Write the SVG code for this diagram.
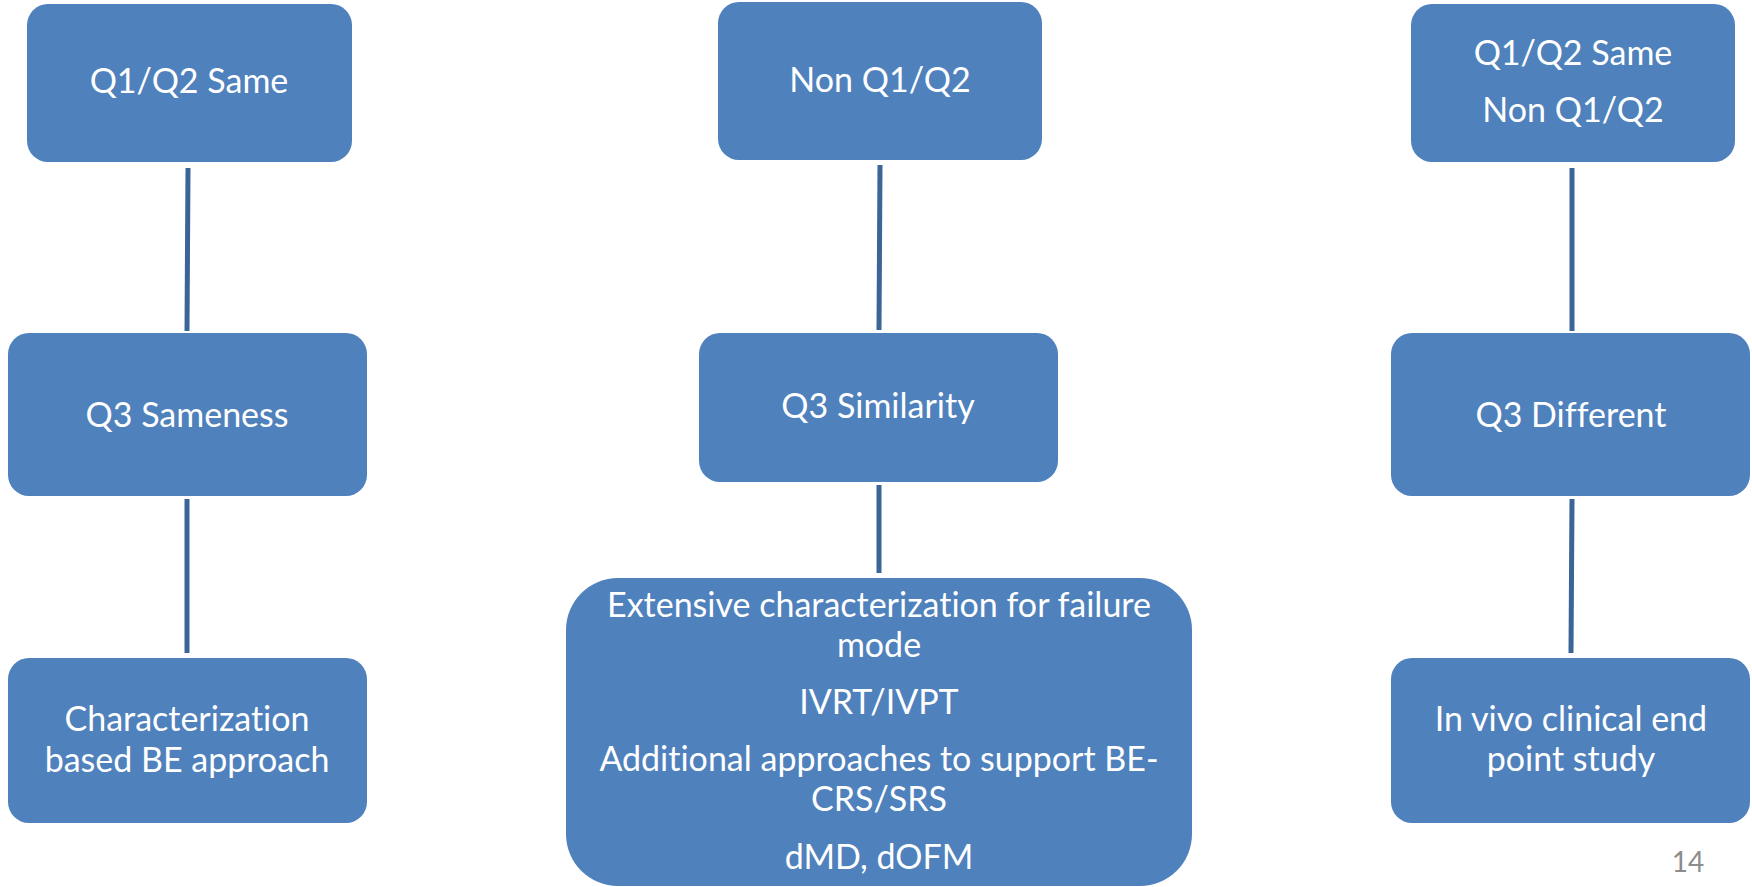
<svg xmlns="http://www.w3.org/2000/svg" width="1752" height="887" viewBox="0 0 1752 887">
<style>
.box{fill:#4F81BD;}
.t{font-family:Lato,"Open Sans","Liberation Sans",sans-serif;font-size:34px;fill:#FFFFFF;text-anchor:middle;font-variant-ligatures:none;font-feature-settings:"liga" 0;}
.c{stroke:#3B6497;stroke-width:5;fill:none;}
.pg{font-family:Lato,"Liberation Sans",sans-serif;font-size:28px;fill:#8C8C8C;text-anchor:middle;}
</style>
<rect width="1752" height="887" fill="#FFFFFF"/>
<g id="connectors">
<line class="c" x1="188" y1="168" x2="187" y2="331"/>
<line class="c" x1="187" y1="499" x2="187" y2="653"/>
<line class="c" x1="880" y1="165" x2="879" y2="330"/>
<line class="c" x1="879" y1="485" x2="879" y2="573"/>
<line class="c" x1="1572" y1="168" x2="1572" y2="331"/>
<line class="c" x1="1572" y1="499" x2="1571" y2="653"/>
</g>
<g id="a1"><rect class="box" x="27" y="4" width="325" height="158" rx="21"/><text class="t" x="189" y="93">Q1/Q2 Same</text></g>
<g id="a2"><rect class="box" x="8" y="333" width="359" height="163" rx="21"/><text class="t" x="187" y="427">Q3 Sameness</text></g>
<g id="a3"><rect class="box" x="8" y="658" width="359" height="165" rx="21"/><text class="t" x="187" y="731">Characterization</text><text class="t" x="187" y="772">based BE approach</text></g>
<g id="b1"><rect class="box" x="718" y="2" width="324" height="158" rx="21"/><text class="t" x="880" y="92">Non Q1/Q2</text></g>
<g id="b2"><rect class="box" x="699" y="333" width="359" height="149" rx="21"/><text class="t" x="878" y="418">Q3 Similarity</text></g>
<g id="b3"><rect class="box" x="566" y="578" width="626" height="308" rx="52"/>
<text class="t" x="879" y="617">Extensive characterization for failure</text>
<text class="t" x="879" y="657">mode</text>
<text class="t" x="879" y="714">IVRT/IVPT</text>
<text class="t" x="879" y="771">Additional approaches to support BE-</text>
<text class="t" x="879" y="811">CRS/SRS</text>
<text class="t" x="879" y="869">dMD, dOFM</text></g>
<g id="c1"><rect class="box" x="1411" y="4" width="324" height="158" rx="21"/><text class="t" x="1573" y="65">Q1/Q2 Same</text><text class="t" x="1573" y="122">Non Q1/Q2</text></g>
<g id="c2"><rect class="box" x="1391" y="333" width="359" height="163" rx="21"/><text class="t" x="1571" y="427">Q3 Different</text></g>
<g id="c3"><rect class="box" x="1391" y="658" width="359" height="165" rx="21"/><text class="t" x="1571" y="731">In vivo clinical end</text><text class="t" x="1571" y="771">point study</text></g>
<text class="pg" x="1688" y="872">14</text>
</svg>
